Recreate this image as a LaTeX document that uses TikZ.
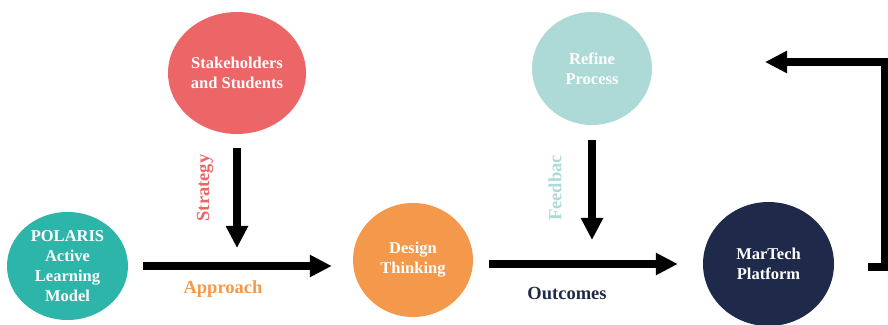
\documentclass[tikz,border=0pt]{standalone}
\usepackage{xcolor}
\usepackage{fontspec}
\setmainfont{Liberation Serif}
\usetikzlibrary{shapes.geometric,arrows.meta,positioning}

\definecolor{stakered}{HTML}{EC6567}
\definecolor{polteal}{HTML}{2EB5AA}
\definecolor{designorange}{HTML}{F4994B}
\definecolor{refineteal}{HTML}{ADDAD7}
\definecolor{martechnavy}{HTML}{1F2A4B}

\begin{document}
\begin{tikzpicture}[x=1pt, y=1pt,
    bubble/.style={ellipse, fill=#1, draw=none, text=white, align=center, inner sep=0pt,
        font=\fontsize{16.5}{20}\selectfont\bfseries},
    bigarrow/.style={line width=8pt, -{Triangle[length=22pt,width=21pt]}},
    flowlabel/.style={text=#1, inner sep=0pt, font=\fontsize{18.5}{22}\selectfont\bfseries}]
    \useasboundingbox (0,0) rectangle (888,324);

    % main row
    \node (polaris) [bubble=polteal, minimum width=121pt, minimum height=108pt] at (67.5,58) {POLARIS\\Active\\Learning\\Model};
    \node (design) [bubble=designorange, minimum width=120pt, minimum height=114pt] at (413,64) {Design\\Thinking};
    \node (martech) [bubble=martechnavy, minimum width=131pt, minimum height=124pt] at (768.5,60) {MarTech\\Platform};

    % top row
    \node (stake) [bubble=stakered, minimum width=138pt, minimum height=122pt] at (237,251) {Stakeholders\\and Students};
    \node (refine) [bubble=refineteal, minimum width=120pt, minimum height=113pt] at (592,255.5) {Refine\\Process};

    \coordinate (stakeend) at (237,76);
    \coordinate (refineend) at (592,84);
    \coordinate (loopend) at (765,262);

    \draw [bigarrow, shorten <=15pt, shorten >=21pt] (polaris.east) -- (polaris.east -| design.west);
    \draw [bigarrow, shorten <=16pt, shorten >=25pt] (martech.west -| design.east) -- (martech.west);
    \draw [bigarrow] ([yshift=-14pt]stake.south) -- (stakeend);
    \draw [bigarrow] ([yshift=-15pt]refine.south) -- (refineend);
    \draw [bigarrow] ([xshift=34pt,yshift=-3pt]martech.east) -- ++(17,0) |- (loopend);

    % labels
    \node (strategy) [flowlabel=stakered, rotate=90] at (205,136) {Strategy};
    \node (feedback) [flowlabel=refineteal, rotate=90] at (555,136) {Feedbac};
    \node (approach) [flowlabel=designorange] at (223,35) {Approach};
    \node (outcomes) [flowlabel=martechnavy] at (567,31) {Outcomes};
\end{tikzpicture}
\end{document}
